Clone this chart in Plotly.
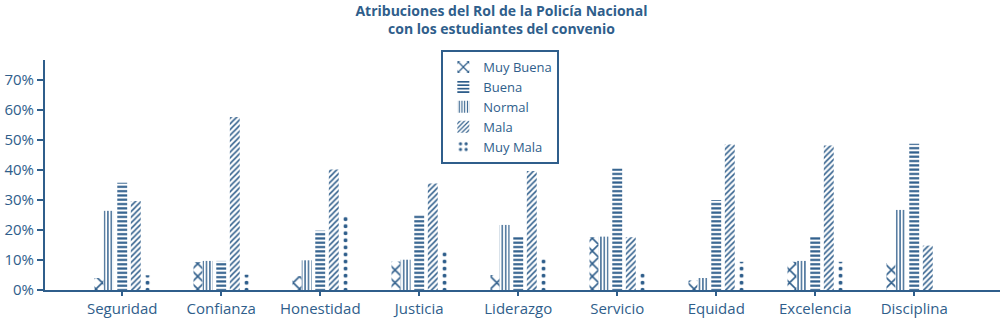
import plotly.graph_objects as go

categories = ["Seguridad", "Confianza", "Honestidad", "Justicia", "Liderazgo",
              "Servicio", "Equidad", "Excelencia", "Disciplina"]
muy_buena = [4.0, 9.3, 4.6, 9.5, 5.0, 17.6, 3.2, 9.4, 9.0]
normal    = [26.4, 9.7, 9.9, 10.1, 21.7, 17.8, 4.0, 9.7, 26.7]
buena     = [35.8, 9.7, 19.8, 25.0, 17.9, 40.5, 30.0, 17.9, 48.8]
mala      = [29.7, 57.7, 40.2, 35.5, 39.7, 17.6, 48.5, 48.2, 14.8]
muy_mala  = [4.9, 5.1, 24.8, 13.2, 10.8, 5.8, 9.4, 9.4, 0.0]

BLUE = "#2F5E8B"
FONT = "Open Sans"

# ---- layout geometry (style) ----
W, H = 1003, 321
ML, MR, MT, MB = 45, 3, 60, 29
PLOT_W = W - ML - MR
PLOT_H = H - MT - MB
PPC = 99.0                      # pixels per category
PPU = 302.5                     # pixels per 100 %
X0 = -0.78
X1 = X0 + PLOT_W / PPC
Y1 = PLOT_H / PPU


def aligned(center, tile_px, phase=0.0):
    """offset/width (data units) so the bar spans one whole pattern tile."""
    w = tile_px / PPC
    left = center - w / 2
    k = round((left - X0) * PPC / tile_px - phase) + phase
    return X0 + k * tile_px / PPC, w


# name, values, pattern shape, tile px, solidity, legend rank, bar center, phase
series = [
    ("Muy Buena", muy_buena, "x", 9.0, 0.32, 1, -0.275, 0.5),
    ("Normal", normal, "|", 3.4, 0.4, 3, -0.137, None),
    ("Buena", buena, "-", 4.3, 0.5, 2, 0.0, None),
    ("Mala", mala, "/", 4.0, 0.38, 4, 0.137, None),
    ("Muy Mala", muy_mala, ".", 99.0 / 14, 0.26, 5, 0.26, 0.0),
]

fig = go.Figure()
for name, vals, shape, size, sol, rank, center, phase in series:
    if phase is not None:
        off, w = aligned(center, size, phase)
    else:
        w = 0.1
        off = center - w / 2
    fig.add_trace(go.Bar(
        name=name, x=categories, y=[v / 100 for v in vals],
        legendrank=rank, width=w, offset=off,
        marker=dict(color="white", line=dict(width=0),
                    pattern=dict(shape=shape, fgcolor=BLUE, bgcolor="white",
                                 fgopacity=1, size=size, solidity=sol,
                                 fillmode="overlay")),
    ))

fig.update_layout(
    width=W, height=H,
    margin=dict(l=ML, r=MR, t=MT, b=MB),
    paper_bgcolor="white", plot_bgcolor="white",
    barmode="group",
    font=dict(family=FONT, size=14, color=BLUE),
    title=dict(text="<b>Atribuciones del Rol de la Policía Nacional<br>con los estudiantes del convenio</b>",
               x=0.5, xanchor="center", y=0.951, yanchor="top",
               font=dict(family=FONT, size=14, color=BLUE)),
    legend=dict(x=0.415, y=(PLOT_H - 50 + MT) / PLOT_H, xanchor="left", yanchor="top",
                bordercolor=BLUE, borderwidth=2, bgcolor="white",
                font=dict(family=FONT, size=13, color=BLUE),
                tracegroupgap=0, itemwidth=30),
    showlegend=True,
)
fig.update_xaxes(range=[X0, X1], showline=True, linecolor=BLUE, linewidth=2,
                 ticks="outside", ticklen=4, tickcolor=BLUE, tickwidth=2,
                 showgrid=False, tickfont=dict(size=15, color=BLUE))
fig.update_yaxes(range=[0, Y1], showline=True, linecolor=BLUE, linewidth=2,
                 ticks="outside", ticklen=6, tickcolor=BLUE, tickwidth=2,
                 tickvals=[0, 0.1, 0.2, 0.3, 0.4, 0.5, 0.6, 0.7], tickformat=".0%",
                 showgrid=False, zeroline=False, tickfont=dict(size=15, color=BLUE))

fig.write_html("out.html", config={"displayModeBar": False},
               post_script="document.body.style.margin='0';")
